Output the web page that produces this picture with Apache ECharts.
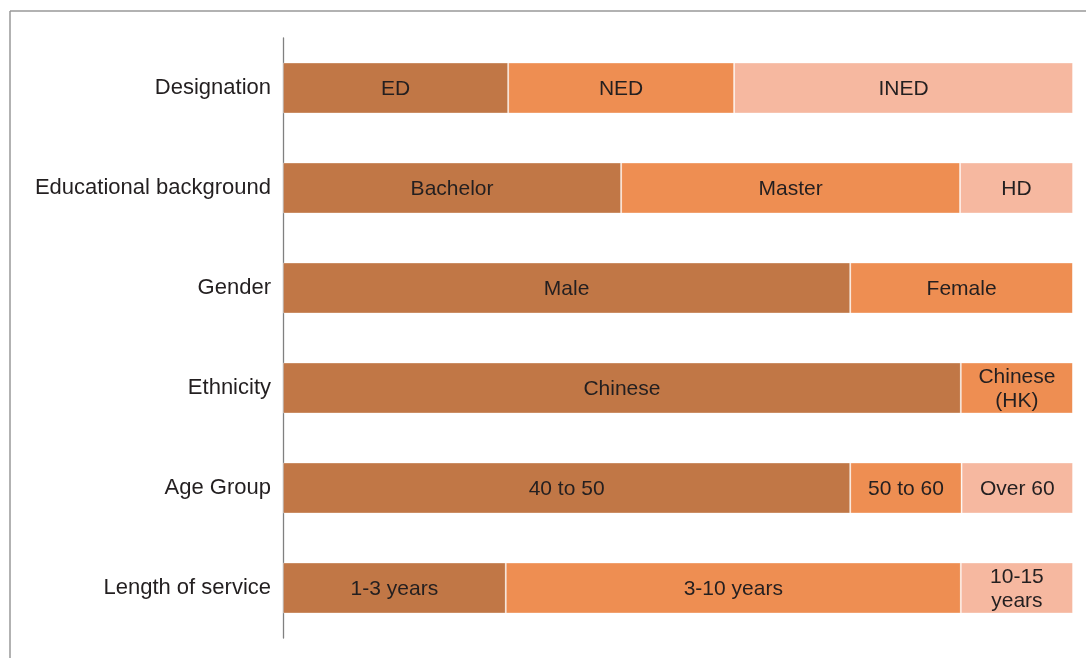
<!DOCTYPE html>
<html>
<head>
<meta charset="utf-8">
<script src="https://cdn.jsdelivr.net/npm/echarts@6/dist/echarts.min.js"></script>
<style>html,body{margin:0;padding:0;background:#fff}#c{width:1086px;height:658px}</style>
</head>
<body>
<div id="c"></div>
<script>
var categories = ['Designation', 'Educational background', 'Gender', 'Ethnicity', 'Age Group', 'Length of service'];
// share of board (%) for each segment
var seg1Values = [28.5, 42.8, 71.8, 85.8, 71.8, 28.2];
var seg1Labels = ['ED', 'Bachelor', 'Male', 'Chinese', '40 to 50', '1-3 years'];
var seg2Values = [28.6, 42.9, 28.2, 14.2, 14.1, 57.6];
var seg2Labels = ['NED', 'Master', 'Female', 'Chinese\n(HK)', '50 to 60', '3-10 years'];
var seg3Values = [42.9, 14.3, 0, 0, 14.1, 14.2];
var seg3Labels = ['INED', 'HD', '', '', 'Over 60', '10-15\nyears'];
var total = 100;

var colors = ['#C17746', '#EE8E52', '#F6B8A0'];
var FONT = '"Liberation Sans", Arial, sans-serif';

function mkSeries(vals, labels, color) {
  return {
    type: 'bar',
    stack: 'all',
    barWidth: 51,
    data: vals,
    itemStyle: { color: color, borderColor: 'rgba(255,255,255,0.35)', borderWidth: 1 },
    label: {
      show: true,
      position: 'inside',
      color: '#231F20',
      fontFamily: FONT,
      fontSize: 21,
      lineHeight: 24,
      offset: [0, 1],
      formatter: function (p) { return p.value ? labels[p.dataIndex] : ''; }
    },
    emphasis: { disabled: true },
    silent: true
  };
}

var chart = echarts.init(document.getElementById('c'), null, { renderer: 'canvas' });
chart.setOption({
  animation: false,
  grid: { left: 283, right: 13, top: 38, bottom: 20, containLabel: false },
  xAxis: { type: 'value', min: 0, max: total, show: false },
  yAxis: {
    type: 'category',
    inverse: true,
    data: categories,
    axisLine: { show: true, lineStyle: { color: '#808080', width: 1.3 } },
    axisTick: { show: false },
    axisLabel: { color: '#231F20', fontFamily: FONT, fontSize: 22, margin: 12, padding: [4, 0, 0, 0] }
  },
  graphic: [
    { type: 'line', shape: { x1: 10, y1: 11, x2: 1086, y2: 11 }, style: { stroke: '#999', lineWidth: 1.5 } },
    { type: 'line', shape: { x1: 10, y1: 11, x2: 10, y2: 658 }, style: { stroke: '#999', lineWidth: 1.5 } }
  ],
  series: [
    mkSeries(seg1Values, seg1Labels, colors[0]),
    mkSeries(seg2Values, seg2Labels, colors[1]),
    mkSeries(seg3Values, seg3Labels, colors[2])
  ]
});
</script>
</body>
</html>
